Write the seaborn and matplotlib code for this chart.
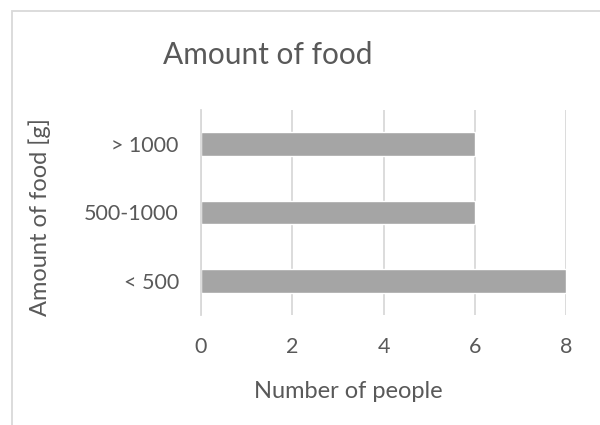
import matplotlib
matplotlib.use("Agg")
import matplotlib.pyplot as plt
import seaborn as sns
import pandas as pd
from matplotlib.patches import Rectangle

categories = ["> 1000", "500-1000", "< 500"]
people = [6, 6, 8]
x_ticks = [0, 2, 4, 6, 8]

sns.set_theme(style="white")
plt.rcParams['font.family'] = ['Lato', 'DejaVu Sans']

text_color = "#595959"
grid_color = "#D9D9D9"
bar_color = "#A5A5A5"

df = pd.DataFrame({"category": categories, "people": people})

fig = plt.figure(figsize=(6, 4.25), dpi=100)
ax = fig.add_axes([201/600, 1-315/425, (566-201)/600, (315-110)/425])

sns.barplot(data=df, x="people", y="category", order=categories, color=bar_color,
            width=0.35, saturation=1, ax=ax, orient="h")

ax.set_xlim(0, 8)
ax.set_ylim(2.5, -0.5)
ax.set_xticks(x_ticks)
ax.set_xticklabels([str(t) for t in x_ticks])
ax.grid(axis="x", color=grid_color, linewidth=1.3)
ax.set_axisbelow(True)
for s in ["top", "right", "bottom"]:
    ax.spines[s].set_visible(False)
ax.spines["left"].set_color(grid_color)
ax.spines["left"].set_linewidth(1.3)
ax.tick_params(axis="both", length=0, labelsize=15.5, colors=text_color)
ax.tick_params(axis="x", pad=16)
ax.tick_params(axis="y", pad=16)
ax.set_xlabel("Number of people", fontsize=17, color=text_color, va="center")
ax.set_ylabel("Amount of food [g]", fontsize=17, color=text_color, va="center")
ax.xaxis.set_label_coords((348-201)/365, (315-392)/205)
ax.yaxis.set_label_coords((40-201)/365, 0.48)

fig.text(267.5/600, 1-55/425, "Amount of food", ha="center", va="center",
         fontsize=21.5, color=text_color)

border = Rectangle((11.5/600, -0.1), 1.2, 1-11/425 + 0.1, transform=fig.transFigure,
                   fill=False, edgecolor=grid_color, linewidth=1.3)
fig.patches.append(border)

fig.savefig("out.png", dpi=100)
